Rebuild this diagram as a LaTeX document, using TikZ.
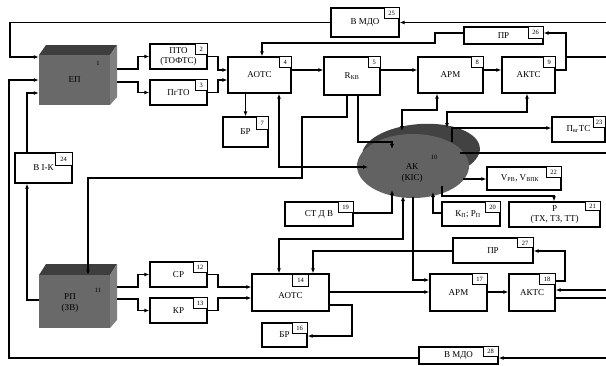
\documentclass[tikz,border=0pt]{standalone}
\usepackage{fontspec}
\setmainfont{Liberation Serif}
\usetikzlibrary{arrows.meta,shapes.geometric}
\definecolor{cfront}{RGB}{105,105,105}
\definecolor{ctop}{RGB}{62,62,62}
\definecolor{cside}{RGB}{128,128,128}
\definecolor{akbody}{RGB}{98,98,98}
\definecolor{akrim}{RGB}{66,66,66}
\newcommand\mybox[6]{%
  \node[blk,minimum width={(#4)-(#2)},minimum height={(#5)-(#3)}] (#1) at ({((#2)+(#4))/2},{((#3)+(#5))/2}) {#6};}
\begin{document}
\begin{tikzpicture}[x=1pt,y=-1pt,
  ln/.style={line width=1.1pt},
  arr/.style={ln,-{Latex[length=5pt,width=4pt]}},
  arrb/.style={ln,{Latex[length=5pt,width=4pt]}-{Latex[length=5pt,width=4pt]}},
  thk/.style={line width=1.7pt},
  blk/.style={draw,line width=1.3pt,fill=white,inner sep=0pt,align=center,font=\fontsize{9}{10}\selectfont},
  nb/.style={draw,line width=1pt,fill=white,inner sep=0pt,font=\fontsize{6.5}{7}\selectfont,minimum height=11pt,minimum width=12pt,anchor=north east},
  nbw/.style={nb,minimum width=15pt},
  lbl/.style={inner sep=0pt,align=center,font=\fontsize{9}{10.5}\selectfont},
  small/.style={inner sep=0pt,font=\fontsize{6.5}{7}\selectfont}]
\useasboundingbox (0,0) rectangle (606,365);

% ---- cubes ----
\fill[ctop] (39,55) -- (46,45) -- (117,45) -- (110,55) -- cycle;
\fill[cside] (110,55) -- (117,45) -- (117,97) -- (110,105) -- cycle;
\node[fill=cfront,minimum width=71pt,minimum height=50pt,inner sep=0pt,font=\fontsize{9}{10}\selectfont] (ep) at (74.5,80) {ЕП};
\node[small] (n1) at (98,63) {1};

\fill[ctop] (39,275) -- (46,264) -- (117,264) -- (110,275) -- cycle;
\fill[cside] (110,275) -- (117,264) -- (117,320) -- (110,328) -- cycle;
\node[fill=cfront,minimum width=71pt,minimum height=53pt,inner sep=0pt] (rp) at (74.5,301.5) {};
\node[lbl] (rpl) at (70,303) {РП\\(ЗВ)};
\node[small] (n11) at (98,290) {11};

\coordinate (epo1) at (117,69);
\coordinate (epo2) at (117,82);
\coordinate (rpo1) at (117,287);
\coordinate (rpo2) at (117,299);

% ---- AK ----
\node[ellipse,fill=akrim,minimum width=118pt,minimum height=56pt,rotate=4,inner sep=0pt] (akrim) at (421,152) {};
\node[ellipse,fill=akbody,minimum width=112pt,minimum height=64pt,inner sep=0pt] (ak) at (413,166) {};
\node[lbl] (akl) at (412,173) {АК\\(КІС)};
\node[small] (n10) at (434,157) {10};

% ---- boxes ----
\mybox{b2}{150}{44}{207}{69}{ПТО\\(ТОФТС)}
\node[nb] (n2) at (b2.north east) {2};
\mybox{b3}{150}{80}{207}{105}{ПгТО}
\node[nb] (n3) at (b3.north east) {3};
\mybox{b4}{228}{57}{291}{93}{АОТС}
\node[nb] (n4) at (b4.north east) {4};
\mybox{b5}{324}{57}{380}{95}{R\textsubscript{КВ}}
\node[nb] (n5) at (b5.north east) {5};
\mybox{b7}{223}{117}{268}{147}{БР}
\node[nb,minimum height=13pt] (n7) at (b7.north east) {7};
\mybox{b8}{418}{57}{483}{93}{АРМ}
\node[nb] (n8) at (b8.north east) {8};
\mybox{b9}{502}{57}{555}{93}{АКТС}
\node[nb] (n9) at (b9.north east) {9};
\mybox{b25}{331}{8}{399}{37}{В МДО}
\node[nbw] (n25) at (b25.north east) {25};
\mybox{b26}{464}{27}{543}{44}{ПР}
\node[nbw,minimum height=12pt] (n26) at (b26.north east) {26};
\mybox{b23}{552}{117}{605}{142}{П\textsubscript{вг}ТС}
\node[nb] (n23) at (b23.north east) {23};
\mybox{b22}{487}{167}{561}{190}{V\textsubscript{РВ}, V\textsubscript{ВПК}\hspace{8pt}}
\node[nbw] (n22) at (b22.north east) {22};
\mybox{b21}{509}{202}{600}{227}{Р\\(ТХ, ТЗ, ТТ)}
\node[nbw,minimum height=9pt] (n21) at (b21.north east) {21};
\mybox{b20}{442}{202}{500}{226}{К\textsubscript{П}; Р\textsubscript{П}\hspace{6pt}}
\node[nbw] (n20) at (b20.north east) {20};
\mybox{b19}{285}{202}{353}{226}{СТ Д В}
\node[nbw] (n19) at (b19.north east) {19};
\mybox{b24}{15}{153}{72}{183}{В І-К}
\node[nbw,minimum width=17pt,minimum height=13pt] (n24) at (b24.north east) {24};
\mybox{b12}{150}{262}{207}{287}{СР}
\node[nb,minimum width=14pt] (n12) at (b12.north east) {12};
\mybox{b13}{150}{298}{207}{323}{КР}
\node[nb,minimum width=14pt] (n13) at (b13.north east) {13};
\mybox{b14}{252}{274}{329}{311}{\\[2pt]АОТС}
\node[nbw,minimum width=16pt,minimum height=12pt,anchor=north west] (n14) at (292,274) {14};
\mybox{b16}{262}{323}{307}{347}{БР}
\node[nbw,minimum height=11pt] (n16) at (b16.north east) {16};
\mybox{b17}{430}{274}{487}{311}{АРМ}
\node[nbw] (n17) at (b17.north east) {17};
\mybox{b18}{509}{274}{555}{311}{АКТС}
\node[nbw,minimum width=16pt] (n18) at (b18.north east) {18};
\mybox{b27}{453}{238}{533}{263}{ПР}
\node[nbw,minimum width=16pt,minimum height=10pt] (n27) at (b27.north east) {27};
\mybox{b28}{419}{347}{498}{364}{В МДО}
\node[nbw,minimum height=10pt] (n28) at (b28.north east) {28};

% ---- free ends on the right edge ----
\coordinate (r1) at (606,22.5);
\coordinate (r2) at (606,57);
\coordinate (r3) at (606,153);
\coordinate (r4) at (606,290);
\coordinate (r5) at (606,298);
\coordinate (r6) at (606,358);

% ---- connectors ----
\draw[arr] (b25.west) -| (10,57) -- (ep.west |- 0,57);
\draw[arr] (r1) -- (b25.east);
\draw[arr] (epo1) -- (138,69) |- (b2.west);
\draw[arr] (epo2) -- (138,82) |- (b3.west);
\draw[arr] (b2.east) -- (218,56.5) |- (b4.west |- 0,70);
\draw[arr] (b3.east) -- (218,92.5) |- (b4.west |- 0,80);
\draw[arr] (b4.east |- 0,70) -- (b5.west |- 0,70);
\draw[arr] (b5.east |- 0,70) -- (b8.west |- 0,70);
\draw[arr] (b8.east |- 0,70) -- (b9.west |- 0,70);
\draw[arr] (b9.east |- 0,70) -- (566,70) |- (b26.east |- 0,33);
\draw[ln] (566,57) -- (r2);
\draw[arr] (b26.west |- 0,33) -| (435,43) -| (b4.north -| 262,0);
\draw[arr] (b4.south -| b7.north) -- (b7.north);
\draw[arrb] (b4.south -| 279,0) |- (368,167);
\draw[arr] (b5.south -| 358,0) |- (392,142) -- (392,149);
\draw[arr] (b5.south -| 347,0) |- (302,117) |- (88,178) -- (rp.north -| 88,0);
\draw[arrb] (402,131) |- (437,110) -- (b8.south -| 437,0);
\draw[arrb] (447,128) |- (527,112) -- (b9.south -| 527,0);
\draw[arr] (452,142) |- (b23.west |- 0,128);
\draw[thk] (460,153) -- (r3);
\draw[arr] (463,179) -- (b22.west |- 0,179);
\draw[arr] (442,186) |- (554,196) -- (b21.north -| 554,0);
\draw[arr] (b20.west |- 0,213) -| (433,192);
\draw[arr] (b19.east |- 0,213) -| (392,190);
\draw[arrb] (403,196) |- (279,239) -- (b14.north -| 279,0);
\draw[arr] (413,197) |- (b17.west |- 0,280);
\draw[arr] (b27.west |- 0,251) -| (b14.north -| 313,0);
\draw[arr] (b14.east |- 0,292) -- (b17.west |- 0,292);
\draw[arr] (b17.east |- 0,292) -- (b18.west |- 0,292);
\draw[arr] (b18.east |- 0,281) -- (565,281) |- (b27.east |- 0,251);
\draw[thk,-{Latex[length=5pt,width=4pt]}] (r4) -- (b18.east |- 0,290);
\draw[thk] (r5) -- (b18.east |- 0,298);
\draw[arr] (b14.east |- 0,305) -- (352,305) |- (b16.east |- 0,336);
\draw[arr] (b12.east) -- (218,274.5) |- (b14.west |- 0,287);
\draw[arr] (b13.east) -- (218,310.5) |- (b14.west |- 0,298);
\draw[arr] (rpo1) -- (138,287) |- (b12.west);
\draw[arr] (rpo2) -- (138,299) |- (b13.west);
\draw[arr] (rp.west |- 0,300) -| (b24.south -| 27,0);
\draw[arr] (b24.north -| 27,0) |- (ep.west |- 0,93);
\draw[arr] (b28.west |- 0,358) -| (9,80) -- (ep.west |- 0,80);
\draw[arr] (r6) -- (b28.east |- 0,358);
\end{tikzpicture}
\end{document}
